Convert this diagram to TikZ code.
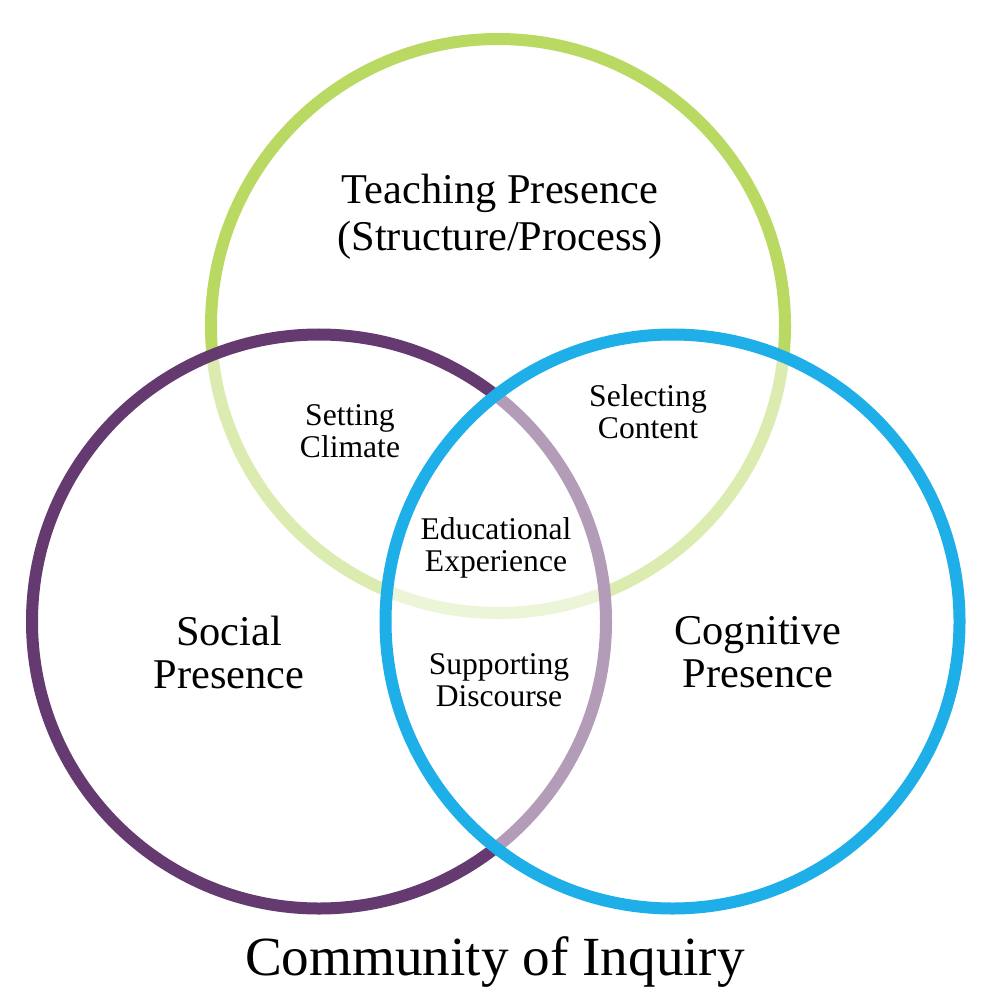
\documentclass[tikz,border=0pt]{standalone}
\usepackage{fontspec}
\setmainfont{Liberation Serif}
\definecolor{tgreen}{HTML}{BAD963}
\definecolor{spurple}{HTML}{653A70}
\definecolor{cblue}{HTML}{1EAEE8}
\begin{document}
\begin{tikzpicture}[x=0.5pt,y=-0.5pt,
  ring/.style={line width=6pt},
  veil/.style={fill=white,fill opacity=0.5,draw=none},
  biglabel/.style={align=center,inner sep=0pt,font=\fontsize{21.2}{21.5}\selectfont},
  smalllabel/.style={align=center,inner sep=0pt,font=\fontsize{15.8}{16}\selectfont}]
\useasboundingbox[fill=white] (0,0) rectangle (1000,1005);
\coordinate (tc) at (498,326);
\coordinate (sc) at (319,621.5);
\coordinate (cc) at (672.5,621.5);
\draw[ring,draw=tgreen] (tc) circle[radius=143.5pt];
\fill[veil] (sc) circle[radius=143.5pt];
\draw[ring,draw=spurple] (sc) circle[radius=143.5pt];
\fill[veil] (cc) circle[radius=143.5pt];
\draw[ring,draw=cblue] (cc) circle[radius=143.5pt];
% labels
\node[biglabel,font=\fontsize{21.2}{23.5}\selectfont] (teach) at (500,217) {Teaching Presence\\(Structure/Process)};
\node[biglabel] (social) at (229,652) {Social\\Presence};
\node[biglabel] (cog) at (758,652) {Cognitive\\Presence};
\node[smalllabel] (setting) at (350,431) {Setting\\Climate};
\node[smalllabel] (select) at (648,412) {Selecting\\Content};
\node[smalllabel] (edu) at (496,548) {Educational\\Experience};
\node[smalllabel] (support) at (499,680) {Supporting\\Discourse};
\node[inner sep=0pt,font=\fontsize{27.6}{30}\selectfont] (title) at (495,962) {Community of Inquiry};
\end{tikzpicture}
\end{document}
